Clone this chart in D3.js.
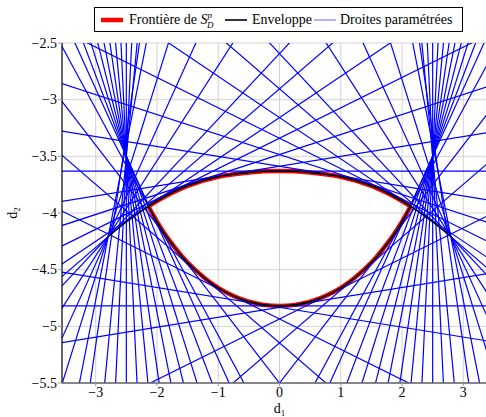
<!DOCTYPE html>
<html><head><meta charset="utf-8">
<script src="https://cdn.jsdelivr.net/npm/d3@7"></script>
<style>html,body{margin:0;padding:0;background:#fff;}svg{display:block;}</style>
</head><body>
<svg id="c" width="486" height="417"></svg>
<script>
// ---- data ----
const xTicks = [-3, -2, -1, 0, 1, 2, 3];
const yTicks = [-2.5, -3, -3.5, -4, -4.5, -5, -5.5];
// parametrised lines (right half; mirrored for the left half):
// normal angle (deg) and one point each line passes through
const lineAngle = [90, 85, 80, 75, 70, 65, 60, 50, 40, 30, 20, 15,
  10, 5, 0, -5, -10, -15, -20, -25, -30, -35, -40, -45, -55, -65, -75, -85, -90];
const lineX = [0, 0.885, 1.393, 1.75, 2.03, 2.8, 2.8, 2.8, 2.8, 2.8, 2.72, 2.62,
  2.5, 2.5, 2.5, 2.5, 2.5, 2.5, 2.5, 2.5, 2.5, 2.5, 2.5, 2.14, 1.72, 1.29, 0.825, 0.289, 0];
const lineY = [-3.63, -3.665, -3.73, -3.809, -3.897, -4.21, -4.21, -4.21, -4.21, -4.21, -4.0, -3.75,
  -3.5, -3.5, -3.5, -3.5, -3.5, -3.5, -3.5, -3.5, -3.5, -3.5, -3.5, -3.94, -4.297, -4.545, -4.714, -4.807, -4.82];
// frontier of S_D^p (right half, mirrored)
const upperX = [0, 0.5, 1.0, 1.5, 1.8, 2.14];
const upperY = [-3.63, -3.642, -3.68, -3.76, -3.835, -3.94];
const lowerX = [0, 0.5, 1.0, 1.5, 1.8, 2.0, 2.14];
const lowerY = [-4.82, -4.782, -4.661, -4.437, -4.24, -4.076, -3.94];
// envelope continuation beyond the corner towards the two cusps (right half, mirrored)
const cuspAX = [2.14, 2.5, 2.8], cuspAY = [-3.94, -4.08, -4.21];
const cuspBX = [2.14, 2.5], cuspBY = [-3.94, -3.5];

// ---- layout ----
const svg = d3.select('#c');
const L = 62, R = 497, T = 43, B = 383;
const x = d3.scaleLinear().domain([-3.55, 3.55]).range([L, R]);
const y = d3.scaleLinear().domain([-5.5, -2.5]).range([B, T]);
const font = "'Liberation Serif', 'DejaVu Serif', serif";
const fmt = v => (v < 0 ? '\u2212' : '') + Math.abs(v);

svg.append('defs').append('clipPath').attr('id', 'clip')
  .append('rect').attr('x', L).attr('y', T).attr('width', R - L).attr('height', B - T);

// grid
const grid = svg.append('g').attr('stroke', '#d2d2d2').attr('stroke-width', 1);
grid.selectAll('.gx').data(xTicks).join('line')
  .attr('x1', d => x(d)).attr('x2', d => x(d)).attr('y1', T).attr('y2', B);
grid.selectAll('.gy').data(yTicks).join('line')
  .attr('x1', L).attr('x2', R).attr('y1', d => y(d)).attr('y2', d => y(d));

const plot = svg.append('g').attr('clip-path', 'url(#clip)');

const rightUpper = upperX.map((v, i) => [v, upperY[i]]);
const rightLower = lowerX.map((v, i) => [v, lowerY[i]]);
const upperFull = rightUpper.slice(1).reverse().map(p => [-p[0], p[1]]).concat(rightUpper);
const lowerFull = rightLower.slice(1).reverse().map(p => [-p[0], p[1]]).concat(rightLower);
const smooth = d3.line().x(d => x(d[0])).y(d => y(d[1])).curve(d3.curveCatmullRom.alpha(0.5));
const cuspA = cuspAX.map((v, i) => [v, cuspAY[i]]);
const cuspB = cuspBX.map((v, i) => [v, cuspBY[i]]);

// frontier (red)
[upperFull, lowerFull].forEach(pts => {
  plot.append('path').attr('d', smooth(pts)).attr('fill', 'none')
    .attr('stroke', '#ff0000').attr('stroke-width', 4.5);
});
// envelope branch towards upper cusp (under the blue lines)
[cuspB, cuspB.map(p => [-p[0], p[1]])].forEach(pts => {
  plot.append('path').attr('d', smooth(pts)).attr('fill', 'none')
    .attr('stroke', '#000').attr('stroke-width', 1.2);
});

// parametrised lines (blue)
const lines = [];
lineAngle.forEach((a, i) => {
  lines.push({a: a, px: lineX[i], py: lineY[i]});
  if (a !== 90 && a !== -90) lines.push({a: 180 - a, px: -lineX[i], py: lineY[i]});
});
plot.selectAll('.bl').data(lines).join('line')
  .attr('x1', d => x(d.px + 30 * Math.sin(d.a * Math.PI / 180)))
  .attr('y1', d => y(d.py - 30 * Math.cos(d.a * Math.PI / 180)))
  .attr('x2', d => x(d.px - 30 * Math.sin(d.a * Math.PI / 180)))
  .attr('y2', d => y(d.py + 30 * Math.cos(d.a * Math.PI / 180)))
  .attr('stroke', '#0000ff').attr('stroke-width', 1.2);

// envelope (black)
[upperFull, lowerFull].forEach(pts => {
  plot.append('path').attr('d', smooth(pts)).attr('fill', 'none')
    .attr('stroke', '#000').attr('stroke-width', 1.6);
});
[cuspA, cuspA.map(p => [-p[0], p[1]])].forEach(pts => {
  plot.append('path').attr('d', smooth(pts)).attr('fill', 'none')
    .attr('stroke', '#000').attr('stroke-width', 1.2);
});

// axes
svg.append('line').attr('x1', L).attr('x2', L).attr('y1', T).attr('y2', B)
  .attr('stroke', '#000').attr('stroke-width', 1.2);
svg.append('line').attr('x1', L).attr('x2', R).attr('y1', B).attr('y2', B)
  .attr('stroke', '#666').attr('stroke-width', 1.6);
svg.selectAll('.ty').data(yTicks).join('line')
  .attr('x1', L - 4).attr('x2', L).attr('y1', d => y(d)).attr('y2', d => y(d))
  .attr('stroke', '#999').attr('stroke-width', 1);
svg.selectAll('.tx').data(xTicks).join('line')
  .attr('x1', d => x(d)).attr('x2', d => x(d)).attr('y1', B).attr('y2', B + 3)
  .attr('stroke', '#999').attr('stroke-width', 1);
svg.selectAll('.ly').data(yTicks).join('text')
  .attr('x', L - 5).attr('y', d => y(d) + 4.5).attr('text-anchor', 'end')
  .attr('font-family', font).attr('font-size', 14).text(fmt);
svg.selectAll('.lx').data(xTicks).join('text')
  .attr('x', d => x(d)).attr('y', B + 14).attr('text-anchor', 'middle')
  .attr('font-family', font).attr('font-size', 14).text(fmt);

// axis titles
const xl = svg.append('text').attr('x', x(0)).attr('y', 413).attr('text-anchor', 'middle')
  .attr('font-family', font).attr('font-size', 14);
xl.append('tspan').text('d');
xl.append('tspan').attr('font-size', 9).attr('dy', 3).text('1');
const yl = svg.append('text').attr('transform', `translate(17,${y(-4)}) rotate(-90)`)
  .attr('text-anchor', 'middle').attr('font-family', font).attr('font-size', 14);
yl.append('tspan').text('d');
yl.append('tspan').attr('font-size', 9).attr('dy', 3).text('2');

// legend
const lg = svg.append('g');
lg.append('rect').attr('x', 94.5).attr('y', 7.5).attr('width', 368).attr('height', 24)
  .attr('fill', '#fff').attr('stroke', '#000').attr('stroke-width', 1);
lg.append('line').attr('x1', 101).attr('x2', 123).attr('y1', 20).attr('y2', 20)
  .attr('stroke', '#ff0000').attr('stroke-width', 4.5);
const t1 = lg.append('text').attr('x', 129).attr('y', 24).attr('font-family', font).attr('font-size', 14);
t1.append('tspan').text('Frontière de ');
t1.append('tspan').attr('font-style', 'italic').text('S');
t1.append('tspan').attr('font-style', 'italic').attr('font-size', 9).attr('dy', -6).text('p');
t1.append('tspan').attr('font-style', 'italic').attr('font-size', 9).attr('dx', -5).attr('dy', 10).text('D');
lg.append('line').attr('x1', 225).attr('x2', 247).attr('y1', 20).attr('y2', 20)
  .attr('stroke', '#000').attr('stroke-width', 1.6);
lg.append('text').attr('x', 252).attr('y', 24).attr('font-family', font).attr('font-size', 14).text('Enveloppe');
lg.append('line').attr('x1', 314).attr('x2', 336).attr('y1', 20).attr('y2', 20)
  .attr('stroke', '#6b6bff').attr('stroke-width', 1);
lg.append('text').attr('x', 340).attr('y', 24).attr('font-family', font).attr('font-size', 14).text('Droites paramétrées');
</script>
</body></html>
